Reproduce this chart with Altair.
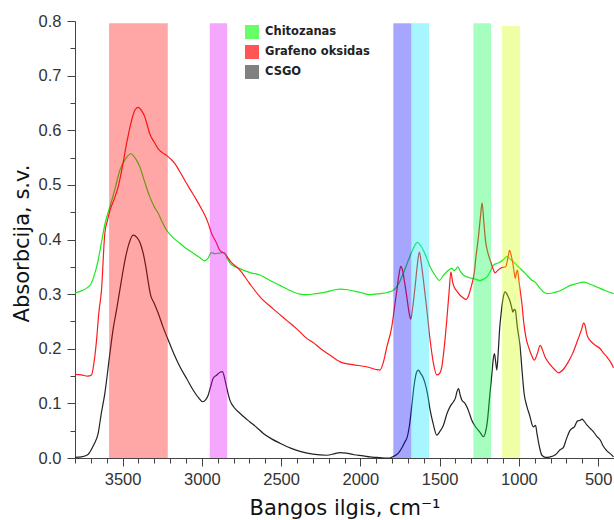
import altair as alt
import pandas as pd

# ---- FTIR spectra: wavenumber (cm-1) and absorbance (a.u.) ----
wn_chito = [3800, 3760, 3727, 3700, 3686, 3654, 3633, 3612, 3580, 3550, 3517, 3480, 3448, 3420,
            3391, 3360, 3328, 3300, 3275, 3250, 3222, 3180, 3138, 3100, 3054, 3010, 2985, 2960,
            2940, 2920, 2890, 2860, 2840, 2820, 2780, 2739, 2690, 2633, 2570, 2507, 2460, 2423,
            2380, 2338, 2280, 2212, 2160, 2128, 2080, 2000, 1940, 1876, 1830, 1792, 1760, 1729,
            1700, 1676, 1655, 1640, 1620, 1602, 1580, 1560, 1530, 1501, 1480, 1455, 1423, 1410,
            1402, 1385, 1370, 1350, 1320, 1297, 1270, 1244, 1220, 1202, 1180, 1160, 1140, 1118,
            1095, 1076, 1055, 1034, 1010, 992, 970, 950, 920, 897, 870, 845, 820, 790, 760, 720,
            676, 640, 592, 550, 508, 460, 403]
abs_chito = [0.302, 0.306, 0.311, 0.318, 0.328, 0.362, 0.395, 0.427, 0.460, 0.490, 0.527, 0.548,
             0.557, 0.549, 0.533, 0.505, 0.478, 0.460, 0.448, 0.432, 0.417, 0.403, 0.393, 0.384,
             0.375, 0.366, 0.361, 0.366, 0.376, 0.374, 0.375, 0.376, 0.365, 0.356, 0.349, 0.344,
             0.339, 0.335, 0.325, 0.316, 0.309, 0.304, 0.300, 0.299, 0.301, 0.304, 0.308, 0.309,
             0.308, 0.303, 0.299, 0.301, 0.303, 0.307, 0.318, 0.338, 0.360, 0.377, 0.390, 0.395,
             0.389, 0.380, 0.365, 0.350, 0.335, 0.325, 0.333, 0.341, 0.347, 0.343, 0.344, 0.350,
             0.342, 0.335, 0.331, 0.329, 0.327, 0.325, 0.328, 0.331, 0.342, 0.353, 0.356, 0.359,
             0.364, 0.369, 0.364, 0.359, 0.352, 0.347, 0.341, 0.335, 0.326, 0.322, 0.312, 0.304,
             0.301, 0.302, 0.304, 0.309, 0.316, 0.319, 0.322, 0.318, 0.313, 0.307, 0.301]

wn_go = [3800, 3760, 3720, 3696, 3680, 3664, 3650, 3633, 3612, 3595, 3580, 3555, 3528, 3500,
         3475, 3443, 3420, 3401, 3380, 3359, 3345, 3328, 3300, 3275, 3250, 3222, 3195, 3170,
         3140, 3107, 3070, 3033, 3000, 2980, 2960, 2938, 2910, 2886, 2854, 2820, 2760, 2700,
         2633, 2550, 2465, 2400, 2338, 2300, 2250, 2200, 2128, 2050, 1960, 1900, 1876, 1855,
         1833, 1802, 1785, 1770, 1755, 1745, 1735, 1720, 1707, 1692, 1682, 1670, 1655, 1640,
         1628, 1615, 1602, 1580, 1560, 1540, 1518, 1500, 1486, 1470, 1455, 1440, 1429, 1418,
         1408, 1390, 1371, 1350, 1333, 1320, 1307, 1295, 1282, 1270, 1255, 1243, 1232, 1222,
         1211, 1195, 1181, 1165, 1150, 1135, 1118, 1100, 1084, 1070, 1059, 1048, 1038, 1030,
         1023, 1015, 1009, 1000, 992, 980, 971, 955, 939, 920, 903, 885, 865, 850, 835, 823,
         800, 775, 750, 720, 690, 660, 630, 605, 592, 585, 570, 550, 520, 487, 466, 445, 420, 403]
abs_go = [0.153, 0.152, 0.150, 0.152, 0.175, 0.216, 0.265, 0.307, 0.411, 0.435, 0.453, 0.472,
          0.496, 0.535, 0.575, 0.618, 0.638, 0.642, 0.636, 0.624, 0.610, 0.593, 0.578, 0.566,
          0.559, 0.554, 0.547, 0.539, 0.525, 0.508, 0.490, 0.472, 0.455, 0.444, 0.430, 0.411,
          0.395, 0.380, 0.374, 0.360, 0.344, 0.320, 0.295, 0.273, 0.252, 0.236, 0.219, 0.212,
          0.200, 0.190, 0.176, 0.171, 0.167, 0.162, 0.161, 0.175, 0.203, 0.240, 0.275, 0.307,
          0.338, 0.351, 0.345, 0.320, 0.295, 0.265, 0.254, 0.275, 0.313, 0.355, 0.377, 0.355,
          0.325, 0.270, 0.216, 0.175, 0.152, 0.155, 0.167, 0.205, 0.252, 0.305, 0.341, 0.322,
          0.313, 0.305, 0.298, 0.293, 0.290, 0.295, 0.307, 0.320, 0.338, 0.370, 0.405, 0.440,
          0.467, 0.435, 0.399, 0.375, 0.362, 0.348, 0.339, 0.343, 0.347, 0.349, 0.350, 0.365,
          0.380, 0.370, 0.356, 0.340, 0.329, 0.340, 0.344, 0.325, 0.307, 0.280, 0.252, 0.220,
          0.203, 0.188, 0.179, 0.190, 0.206, 0.197, 0.185, 0.179, 0.170, 0.162, 0.156, 0.162,
          0.175, 0.192, 0.215, 0.235, 0.247, 0.245, 0.225, 0.215, 0.207, 0.200, 0.192, 0.185,
          0.175, 0.165]

wn_csgo = [3800, 3760, 3720, 3706, 3680, 3654, 3635, 3612, 3580, 3560, 3538, 3510, 3485, 3460,
           3433, 3410, 3391, 3370, 3353, 3338, 3323, 3300, 3275, 3245, 3212, 3175, 3138, 3095,
           3054, 3020, 2995, 2975, 2960, 2945, 2928, 2905, 2885, 2870, 2854, 2840, 2823, 2795,
           2760, 2730, 2696, 2650, 2612, 2560, 2507, 2440, 2381, 2300, 2212, 2160, 2128, 2090,
           2040, 1981, 1940, 1896, 1850, 1813, 1790, 1760, 1735, 1718, 1707, 1690, 1676, 1660,
           1644, 1634, 1620, 1605, 1592, 1575, 1560, 1540, 1518, 1500, 1476, 1455, 1434, 1413,
           1400, 1390, 1381, 1370, 1360, 1340, 1324, 1310, 1297, 1280, 1265, 1245, 1224, 1210,
           1198, 1185, 1170, 1162, 1154, 1146, 1139, 1130, 1122, 1110, 1098, 1087, 1070, 1055,
           1045, 1038, 1030, 1023, 1010, 992, 980, 967, 950, 929, 918, 908, 895, 886, 870, 855,
           830, 802, 770, 740, 718, 700, 676, 665, 650, 630, 613, 602, 590, 570, 550, 529, 510,
           487, 466, 445, 424, 403]
abs_csgo = [0.001, 0.002, 0.006, 0.011, 0.025, 0.045, 0.080, 0.118, 0.191, 0.235, 0.271, 0.320,
            0.362, 0.392, 0.408, 0.404, 0.395, 0.375, 0.350, 0.322, 0.298, 0.283, 0.265, 0.240,
            0.216, 0.190, 0.167, 0.145, 0.124, 0.110, 0.103, 0.107, 0.115, 0.130, 0.146, 0.152,
            0.157, 0.158, 0.143, 0.125, 0.106, 0.092, 0.082, 0.074, 0.066, 0.055, 0.045, 0.035,
            0.027, 0.018, 0.012, 0.007, 0.005, 0.008, 0.010, 0.009, 0.006, 0.004, 0.002, 0.001,
            0.000, 0.000, 0.003, 0.009, 0.020, 0.030, 0.036, 0.060, 0.094, 0.135, 0.158, 0.161,
            0.155, 0.148, 0.137, 0.115, 0.088, 0.062, 0.042, 0.048, 0.060, 0.080, 0.094, 0.103,
            0.110, 0.122, 0.127, 0.115, 0.106, 0.100, 0.091, 0.080, 0.069, 0.060, 0.054, 0.047,
            0.039, 0.048, 0.069, 0.110, 0.155, 0.180, 0.191, 0.175, 0.161, 0.195, 0.234, 0.270,
            0.295, 0.304, 0.297, 0.286, 0.275, 0.267, 0.272, 0.271, 0.240, 0.203, 0.160, 0.118,
            0.095, 0.075, 0.062, 0.057, 0.060, 0.045, 0.020, 0.005, 0.001, 0.002, 0.006, 0.015,
            0.020, 0.035, 0.051, 0.054, 0.057, 0.068, 0.069, 0.071, 0.068, 0.060, 0.054, 0.048,
            0.040, 0.033, 0.021, 0.013, 0.008, 0.002]

series_names = ["Chitozanas", "Grafeno oksidas", "CSGO"]
series_colors = ["#1ee81e", "#ff1a1a", "#222222"]
swatch_colors = ["#66ff66", "#ff5555", "#808080"]

# ---- highlighted absorption regions ----
band_from = [3585, 2950, 1792, 1678, 1287, 1106]
band_to = [3215, 2840, 1678, 1566, 1175, 992]
band_top = [0.796, 0.796, 0.796, 0.796, 0.796, 0.791]
band_color = ["#ff0000", "#e200ff", "#0000ff", "#00e2ff", "#00ff48", "#ceff00"]

# ---- axis tick positions ----
x_major = [3500, 3000, 2500, 2000, 1500, 1000, 500]
x_minor = [w for w in range(3800, 399, -100) if w not in x_major]
y_major = [0.0, 0.1, 0.2, 0.3, 0.4, 0.5, 0.6, 0.7, 0.8]
y_minor = [0.05, 0.15, 0.25, 0.35, 0.45, 0.55, 0.65, 0.75]

frames = []
for name, wn, ab in zip(series_names, [wn_chito, wn_go, wn_csgo], [abs_chito, abs_go, abs_csgo]):
    frames.append(pd.DataFrame({"series": name, "wn": wn, "abs": ab}))
spectra = pd.concat(frames, ignore_index=True)

bands = pd.DataFrame({"lo": band_from, "hi": band_to, "top": band_top,
                      "base": [0.0] * len(band_from), "col": band_color})

# legend keys: one entry per series, anchored outside the x domain so the clipped marks stay hidden
legend_keys = pd.DataFrame({"series": series_names, "wn": [100] * 3, "abs": [0.5] * 3})

x_scale = alt.Scale(domain=[400, 3800], reverse=True, nice=False, zero=False)
y_scale = alt.Scale(domain=[0, 0.8], nice=False, zero=False)

axis_common = dict(domainColor="#444444", tickColor="#444444", grid=False,
                   labelFont="Liberation Sans", labelFontSize=16.5, labelColor="#333333",
                   titleFont="DejaVu Sans", titleFontSize=21, titleFontWeight="normal",
                   titleColor="#111111")

x_axis_major = alt.Axis(orient="bottom", values=x_major, tickSize=8, labelPadding=5,
                        format="d", title="Bangos ilgis, cm⁻¹", titleBaseline="alphabetic",
                        titleY=56, **axis_common)
y_axis_major = alt.Axis(orient="left", values=y_major, tickSize=8, labelPadding=6,
                        format=".1f", title="Absorbcija, s.v.", titleBaseline="alphabetic",
                        titleX=-47, titleY=222, **axis_common)
x_axis_minor = alt.Axis(orient="bottom", values=x_minor, tickSize=5, labels=False,
                        domain=False, grid=False, tickColor="#444444", title=None)
y_axis_minor = alt.Axis(orient="left", values=y_minor, tickSize=5, labels=False,
                        domain=False, grid=False, tickColor="#444444", title=None)

lines = alt.Chart(spectra).mark_line(strokeWidth=1.2, interpolate="monotone").encode(
    x=alt.X("wn:Q", scale=x_scale, axis=x_axis_major),
    y=alt.Y("abs:Q", scale=y_scale, axis=y_axis_major),
    color=alt.Color("series:N",
                    scale=alt.Scale(domain=series_names, range=series_colors),
                    legend=None),
    order=alt.Order("wn:Q"),
)

band_layer = alt.Chart(bands).mark_rect(opacity=0.35).encode(
    x=alt.X("lo:Q", scale=x_scale, axis=x_axis_minor),
    x2="hi:Q",
    y=alt.Y("base:Q", scale=y_scale, axis=y_axis_minor),
    y2="top:Q",
    fill=alt.Fill("col:N", scale=None, legend=None),
)

keys = alt.Chart(legend_keys).mark_square(clip=True, size=196, filled=True).encode(
    x=alt.X("wn:Q", scale=x_scale, axis=None),
    y=alt.Y("abs:Q", scale=y_scale, axis=None),
    color=alt.Color(
        "series:N",
        scale=alt.Scale(domain=series_names, range=swatch_colors),
        sort=series_names,
        legend=alt.Legend(
            title=None, orient="none", legendX=170, legendY=4,
            symbolType="square", symbolSize=196, symbolStrokeWidth=0,
            symbolOpacity=1, rowPadding=6, labelOffset=6,
            labelFont="DejaVu Sans", labelFontSize=11.5, labelFontWeight="bold",
            labelColor="#222222",
        ),
    ),
)

chart = alt.layer(lines, band_layer, keys).resolve_axis(
    x="independent", y="independent"
).resolve_scale(color="independent").properties(
    width=539, height=437,
    padding={"left": 75, "top": 21, "right": 0, "bottom": 62},
    autosize=alt.AutoSizeParams(type="none"),
    background="white",
).configure_view(stroke=None)

chart.save("out.html", embed_options={"renderer": "svg", "actions": False})
